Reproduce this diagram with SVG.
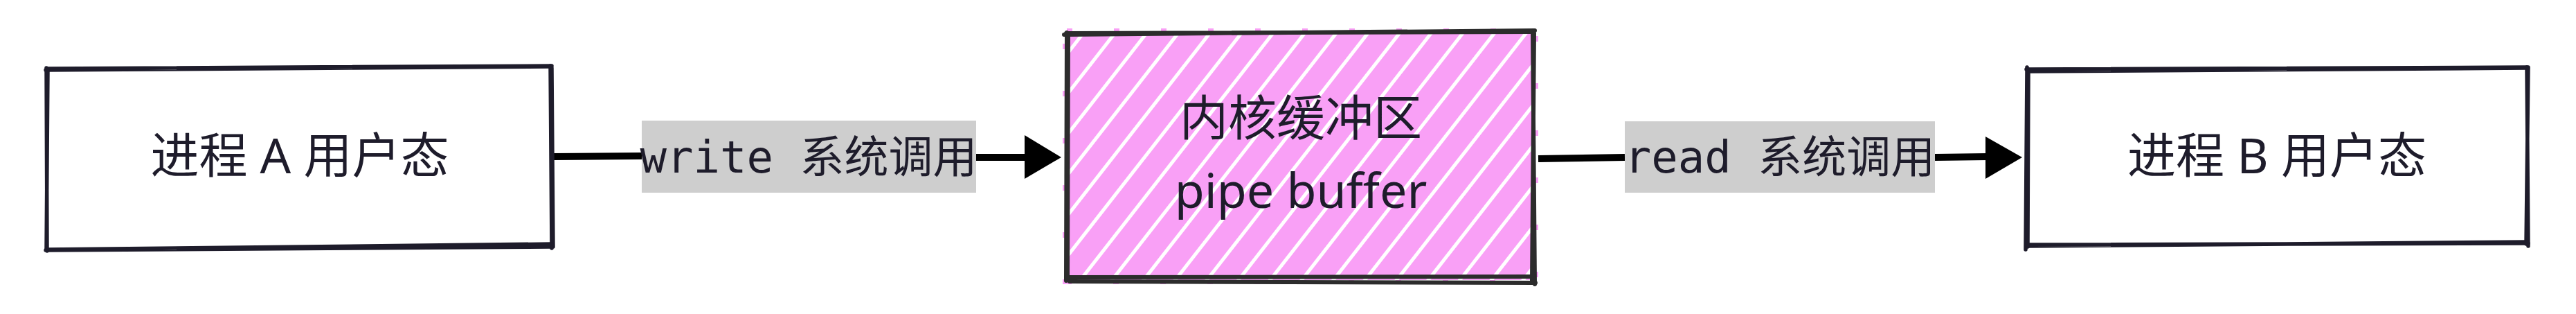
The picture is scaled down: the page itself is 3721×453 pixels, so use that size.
<svg xmlns="http://www.w3.org/2000/svg" width="3721" height="453" viewBox="0 0 3721 453">
<defs>
<style>
.edge{fill:none;stroke:#1e1c2b;stroke-width:5.5;stroke-linecap:round;stroke-linejoin:round}
.edge2{fill:none;stroke:#2c2c2c;stroke-width:6;stroke-linecap:round;stroke-linejoin:round}
.ntext{font-family:"Noto Sans","Noto Sans CJK SC",sans-serif;font-size:70px;fill:#1e1c2b;text-anchor:middle}
.ltext{font-family:"DejaVu Sans Mono","Noto Sans CJK SC",monospace;font-size:64px;fill:#1e1c2b;text-anchor:middle}
.lbg{fill:#cecece}
.wire{fill:none;stroke:#000000;stroke-width:10;stroke-linecap:butt}
.head{fill:#000000}
</style>
<pattern id="hatch" width="36" height="36" patternUnits="userSpaceOnUse" patternTransform="rotate(38)">
<rect width="36" height="36" fill="#f9a0f6"/>
<rect x="0" y="0" width="5" height="36" fill="#ffffff"/>
</pattern>
</defs>
<rect width="3721" height="453" fill="#ffffff"/>

<g id="connectors">
<g id="edge-write">
<path class="wire" d="M800 226 L927 225 M1410 227 L1484 227"/>
<polygon class="head" points="1480,195 1533,227 1480,258"/>
<rect class="lbg" x="927" y="174" width="483" height="104"/>
<text class="ltext" x="1168" y="249">write 系统调用</text>
</g>
<g id="edge-read">
<path class="wire" d="M2222 229 L2347 227 M2795 227 L2872 226"/>
<polygon class="head" points="2868,197 2921,227 2868,258"/>
<rect class="lbg" x="2347" y="175" width="448" height="103"/>
<text class="ltext" x="2571" y="249">read 系统调用</text>
</g>
</g>

<g id="node-a">
<path class="edge" d="M66 101 L795 96 M68 99 Q430 97 797 95"/>
<path class="edge" d="M795 95 L797 358 M797 98 L799 356"/>
<path class="edge" d="M797 352 L67 360 M795 356 L66 361"/>
<path class="edge" d="M67 98 L68 362 M69 101 L67 360"/>
<text class="ntext" x="433" y="250">进程 A 用户态</text>
</g>

<g id="node-buffer">
<rect x="1541" y="47" width="675" height="357" fill="none" stroke="#f9a0f6" stroke-width="12" stroke-dasharray="8 60"/>
<rect x="1541" y="47" width="675" height="357" fill="url(#hatch)"/>
<path class="edge2" d="M1537 50 L2217 44 M1540 48 L2215 46"/>
<path class="edge2" d="M1541 47 L1540 405 M1543 50 L1542 403"/>
<path class="edge2" d="M2214 50 L2217 410 M2216 48 L2213 406"/>
<path class="edge2" d="M1540 400 L2216 399 M1545 406 L2218 408"/>
<text class="ntext" x="1879" y="196">内核缓冲区</text>
<text class="ntext" x="1879" y="300">pipe buffer</text>
</g>

<g id="node-b">
<path class="edge" d="M2927 100 L3652 97 M2929 103 Q3290 99 3650 98"/>
<path class="edge" d="M3650 97 L3652 355 M3652 99 L3649 352"/>
<path class="edge" d="M3652 351 L2927 353 M3650 349 L2929 355"/>
<path class="edge" d="M2928 97 L2926 360 M2930 100 L2929 356"/>
<text class="ntext" x="3289" y="250">进程 B 用户态</text>
</g>
</svg>
